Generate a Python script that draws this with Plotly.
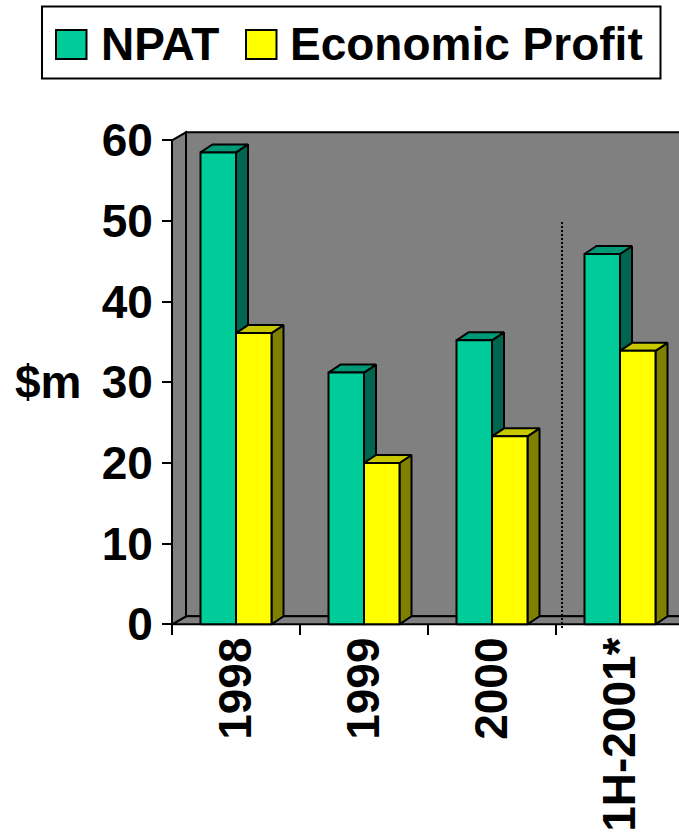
import plotly.graph_objects as go

# ---------------- data ----------------
categories = ["1998", "1999", "2000", "1H-2001*"]
npat = [58.5, 31.2, 35.2, 45.9]
economic_profit = [36.1, 20.0, 23.3, 33.9]
series_names = ["NPAT", "Economic Profit"]
y_tick_values = [0, 10, 20, 30, 40, 50, 60]
y_axis_title = "$m"
divider_after_category = 3  # dotted divider before the half-year column

# ---------------- geometry / styles ----------------
W, H = 679, 832
ML, MR, MT, MB = 150, 0, 118, 190
PX_PER_CAT = 128.0
PX_PER_UNIT = 8.067
AXIS_LEFT_PX = 172.0
ZERO_PX = 624.3

plot_w = W - ML - MR
plot_h = H - MT - MB
x_lo = -(AXIS_LEFT_PX - ML) / PX_PER_CAT
x_hi = x_lo + plot_w / PX_PER_CAT
y_lo = -((H - MB) - ZERO_PX) / PX_PER_UNIT
y_hi = y_lo + plot_h / PX_PER_UNIT

WALL_DX, WALL_DY = 14 / PX_PER_CAT, 8 / PX_PER_UNIT
BAR_DX, BAR_DY = 12 / PX_PER_CAT, 8 / PX_PER_UNIT
BAR_W = 35.5 / PX_PER_CAT
Y_MAX = max(y_tick_values)

FONT = "Liberation Sans, Arial, sans-serif"
WALL = "#808080"
EDGE = "black"
colors = {
    "NPAT": {"front": "#00CC99", "top": "#009977", "side": "#006650"},
    "Economic Profit": {"front": "#FFFF00", "top": "#C8C800", "side": "#808000"},
}

fig = go.Figure()


def poly(xs, ys, fill, lw=2, name=None):
    fig.add_trace(go.Scatter(
        x=list(xs) + [xs[0]], y=list(ys) + [ys[0]],
        mode="lines", fill="toself", fillcolor=fill,
        line=dict(color=EDGE, width=lw), hoverinfo="skip",
        showlegend=False, name=name or "",
    ))


far = x_hi + 1
# back wall
poly([WALL_DX, far, far, WALL_DX],
     [WALL_DY, WALL_DY, Y_MAX + WALL_DY, Y_MAX + WALL_DY], WALL)
# floor
poly([0, far, far + WALL_DX, WALL_DX], [0, 0, WALL_DY, WALL_DY], WALL)
# left wall
poly([0, 0, WALL_DX, WALL_DX], [0, Y_MAX, Y_MAX + WALL_DY, WALL_DY], WALL)

# dotted divider
div_x = divider_after_category + 0.047
fig.add_trace(go.Scatter(
    x=[div_x, div_x], y=[-0.46, 50.1], mode="lines",
    line=dict(color="black", width=2, dash="2px,2px"),
    hoverinfo="skip", showlegend=False,
))

# 3-D bars
series_values = [npat, economic_profit]
for i, cat in enumerate(categories):
    for s, (name, vals) in enumerate(zip(series_names, series_values)):
        v = vals[i]
        c = colors[name]
        x0 = i + 0.5 - BAR_W + s * BAR_W
        x1 = x0 + BAR_W
        # side face
        poly([x1, x1 + BAR_DX, x1 + BAR_DX, x1], [0, BAR_DY, v + BAR_DY, v], c["side"])
        # top face
        poly([x0, x1, x1 + BAR_DX, x0 + BAR_DX], [v, v, v + BAR_DY, v + BAR_DY], c["top"])
        # front face
        poly([x0, x1, x1, x0], [0, 0, v, v], c["front"], name=f"{name} {cat}")

# ---------------- axes ----------------
tick_font = dict(family=FONT, size=46, color="black", weight="bold")
fig.update_xaxes(
    range=[x_lo, x_hi], anchor="free", position=((H - MB) - ZERO_PX) / plot_h,
    automargin=False,
    tickmode="array", tickvals=[i + 0.5 for i in range(len(categories))],
    ticktext=categories, tickangle=-90, tickfont=tick_font,
    ticks="", ticklabelstandoff=3,
    minor=dict(tickmode="array", tickvals=list(range(len(categories) + 1)),
               ticks="outside", ticklen=10, tickwidth=2, tickcolor="black"),
    showgrid=False, zeroline=False, showline=False, fixedrange=True,
)
fig.update_yaxes(
    range=[y_lo, y_hi], anchor="free", position=(AXIS_LEFT_PX - ML) / plot_w,
    automargin=False,
    tickmode="array", tickvals=y_tick_values, tickfont=tick_font,
    ticks="outside", ticklen=10, tickwidth=2, tickcolor="black",
    showgrid=False, zeroline=False, showline=False, fixedrange=True,
)


# ---------------- legend (manual, large) ----------------
def px_x(p):
    return (p - ML) / plot_w


def px_y(p):
    return ((H - MB) - p) / plot_h


shapes = [
    dict(type="rect", xref="paper", yref="paper",
         x0=px_x(42), x1=px_x(660.5), y0=px_y(78.5), y1=px_y(6.5),
         line=dict(color="black", width=2), fillcolor="white"),
]
legend_marks = [(56, 86.5), (246, 276.5)]
legend_text_x = [100, 289]
annotations = []
for name, (mx0, mx1), tx in zip(series_names, legend_marks, legend_text_x):
    shapes.append(dict(type="rect", xref="paper", yref="paper",
                       x0=px_x(mx0), x1=px_x(mx1), y0=px_y(59), y1=px_y(30),
                       line=dict(color="black", width=2),
                       fillcolor=colors[name]["front"]))
    annotations.append(dict(xref="paper", yref="paper", x=px_x(tx), y=px_y(44.5),
                            xanchor="left", yanchor="middle", showarrow=False,
                            text=name, borderpad=0,
                            font=dict(family=FONT, size=46, color="black", weight="bold")))

annotations.append(dict(xref="paper", yref="y", x=px_x(82), y=30,
                        xanchor="right", yanchor="middle", showarrow=False,
                        text=y_axis_title, borderpad=0,
                        font=dict(family=FONT, size=46, color="black", weight="bold")))

fig.update_layout(
    width=W, height=H, autosize=False,
    margin=dict(l=ML, r=MR, t=MT, b=MB, pad=0, autoexpand=False),
    paper_bgcolor="white", plot_bgcolor="white",
    showlegend=False, shapes=shapes, annotations=annotations,
    font=dict(family=FONT),
)

fig.write_html("out.html", include_plotlyjs=True, config={"displayModeBar": False})
